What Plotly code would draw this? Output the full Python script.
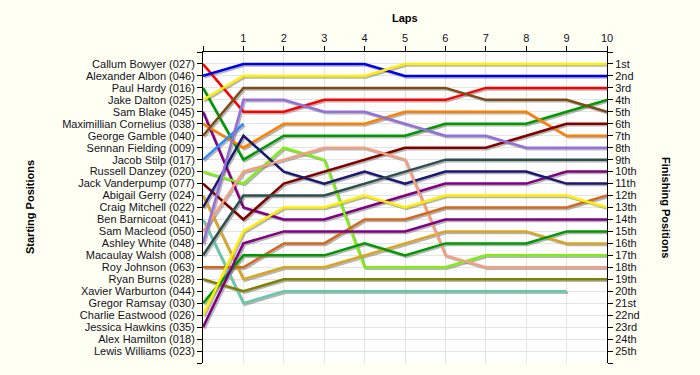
import plotly.graph_objects as go

laps = list(range(0, 11))
lap_labels = [""] + [str(i) for i in range(1, 11)]

drivers = [
    "Callum Bowyer (027)", "Alexander Albon (046)", "Paul Hardy (016)", "Jake Dalton (025)",
    "Sam Blake (045)", "Maximillian Cornelius (038)", "George Gamble (040)", "Sennan Fielding (009)",
    "Jacob Stilp (017)", "Russell Danzey (020)", "Jack Vanderpump (077)", "Abigail Gerry (024)",
    "Craig Mitchell (022)", "Ben Barnicoat (041)", "Sam Macleod (050)", "Ashley White (048)",
    "Macaulay Walsh (008)", "Roy Johnson (063)", "Ryan Burns (028)", "Xavier Warburton (044)",
    "Gregor Ramsay (030)", "Charlie Eastwood (026)", "Jessica Hawkins (035)", "Alex Hamilton (018)",
    "Lewis Williams (023)",
]

colors = [
    "#FF0000", "#0000EE", "#009900", "#FFEE00",
    "#800080", "#FF8000", "#7F4A14", "#191970",
    "#2E8BFF", "#7FEE11", "#800000", "#DAA520",
    "#191970", "#66C8A8", "#F4A080", "#9370DB",
    "#2F4F4F", "#D2691E", "#808000", "#808080",
    "#009900", "#FFEE00", "#800080", "#808080",
    "#808080",
]

# position of each driver at the end of each lap (lap 0 = grid)
positions = [
    [1, 5, 5, 4, 4, 4, 4, 3, 3, 3, 3],          # Callum Bowyer
    [2, 1, 1, 1, 1, 2, 2, 2, 2, 2, 2],          # Alexander Albon
    [3, 9, 7, 7, 7, 7, 6, 6, 6, 5, 4],          # Paul Hardy
    [4, 2, 2, 2, 2, 1, 1, 1, 1, 1, 1],          # Jake Dalton
    [5, 13, 14, 14, 13, 12, 11, 11, 11, 10, 10],  # Sam Blake
    [6, 8, 6, 6, 6, 5, 5, 5, 5, 7, 7],          # Maximillian Cornelius
    [7, 3, 3, 3, 3, 3, 3, 4, 4, 4, 5],          # George Gamble
    [8],                                        # Sennan Fielding
    [9, 6],                                     # Jacob Stilp
    [10, 11, 8, 9, 18, 18, 18, 17, 17, 17, 17],  # Russell Danzey
    [11, 14, 11, 10, 9, 8, 8, 8, 7, 6, 6],      # Jack Vanderpump
    [12, 19, 18, 18, 17, 16, 15, 15, 15, 16, 16],  # Abigail Gerry
    [13, 7, 10, 11, 10, 11, 10, 10, 10, 11, 11],  # Craig Mitchell
    [14, 21, 20, 20, 20, 20, 20, 20, 20, 20],   # Ben Barnicoat
    [15, 10, 9, 8, 8, 9, 17, 18, 18, 18, 18],   # Sam Macleod
    [16, 4, 4, 5, 5, 6, 7, 7, 8, 8, 8],         # Ashley White
    [17, 12, 12, 12, 11, 10, 9, 9, 9, 9, 9],    # Macaulay Walsh
    [18, 18, 16, 16, 14, 14, 13, 13, 13, 13, 12],  # Roy Johnson
    [19, 20, 19, 19, 19, 19, 19, 19, 19, 19, 19],  # Ryan Burns
    [20],                                       # Xavier Warburton
    [21, 17, 17, 17, 16, 17, 16, 16, 16, 15, 15],  # Gregor Ramsay
    [22, 15, 13, 13, 12, 13, 12, 12, 12, 12, 13],  # Charlie Eastwood
    [23, 16, 15, 15, 15, 15, 14, 14, 14, 14, 14],  # Jessica Hawkins
    [24],                                       # Alex Hamilton
    [25],                                       # Lewis Williams
]

finish_labels = [
    "1st", "2nd", "3rd", "4th", "5th", "6th", "7th", "8th", "9th", "10th",
    "11th", "12th", "13th", "14th", "15th", "16th", "17th", "18th", "19th", "20th",
    "21st", "22nd", "23rd", "24th", "25th",
]

FONT = "Liberation Sans, Arial, sans-serif"
TXT = "#111122"

W, H = 700, 375
ML, MR, MT, MB = 203, 93, 52, 12
plot_w = W - ML - MR
plot_h = H - MT - MB
X_RANGE = [0, 10]
Y_RANGE = [26, 0]
SHADOW_PX = 1.5
dx = SHADOW_PX * (X_RANGE[1] - X_RANGE[0]) / plot_w
dy = SHADOW_PX * (Y_RANGE[0] - Y_RANGE[1]) / plot_h

fig = go.Figure()
# drop shadows (base axes, range shifted by a pixel or two)
for name, col, pos in zip(drivers, colors, positions):
    if len(pos) < 2:
        continue
    fig.add_trace(go.Scatter(
        x=laps[:len(pos)], y=pos, mode="lines", xaxis="x", yaxis="y",
        line=dict(color="rgba(110,110,110,0.5)", width=2.5),
        showlegend=False, hoverinfo="skip",
    ))
# main lines
for name, col, pos in zip(drivers, colors, positions):
    if len(pos) < 2:
        continue
    fig.add_trace(go.Scatter(
        x=laps[:len(pos)], y=pos, mode="lines", name=name, xaxis="x2", yaxis="y2",
        line=dict(color=col, width=2.5), showlegend=False, hoverinfo="name+y",
    ))

# invisible trace to anchor right axis
fig.add_trace(go.Scatter(x=[0], y=[1], xaxis="x2", yaxis="y3", mode="markers",
                         marker=dict(opacity=0), showlegend=False, hoverinfo="skip"))

grid_vals = list(range(0, 27))
left_text = [""] + drivers + [""]
right_text = [""] + finish_labels + [""]

axis_common = dict(showline=True, linecolor="#000000", linewidth=1,
                   ticks="outside", ticklen=5, tickcolor="#000000",
                   zeroline=False, tickfont=dict(size=11, color=TXT))

fig.update_layout(
    width=W, height=H,
    margin=dict(l=ML, r=MR, t=MT, b=MB),
    paper_bgcolor="#FFFFF4",
    plot_bgcolor="#FFFFFF",
    font=dict(family=FONT, size=11, color=TXT),
    xaxis=dict(range=[X_RANGE[0] - dx, X_RANGE[1] - dx], visible=False, showgrid=False,
               zeroline=False),
    yaxis=dict(range=[Y_RANGE[0] - dy, Y_RANGE[1] - dy], visible=False, showgrid=False,
               zeroline=False),
    xaxis2=dict(
        overlaying="x", anchor="y2", side="top", range=X_RANGE, tickvals=laps, ticktext=lap_labels,
        showgrid=True, gridcolor="#E4E4E4", gridwidth=1, **axis_common,
    ),
    yaxis2=dict(
        overlaying="y", anchor="x2", side="left", range=Y_RANGE, tickvals=grid_vals, ticktext=left_text,
        showgrid=True, gridcolor="#E4E4E4", gridwidth=1, **axis_common,
    ),
    yaxis3=dict(
        overlaying="y", anchor="x2", side="right", range=Y_RANGE,
        tickvals=grid_vals, ticktext=right_text, showgrid=False, **axis_common,
    ),
)

def px_x(px):
    return (px - ML) / plot_w
def px_y(py):
    return 1 - (py - MT) / plot_h

fig.add_annotation(text="<b>Laps</b>", x=px_x(405), y=px_y(18), xref="paper", yref="paper",
                   xanchor="center", yanchor="middle",
                   showarrow=False, font=dict(size=11, color="#000000"))
fig.add_annotation(text="<b>Starting Positions</b>", x=px_x(30), y=px_y(207), xref="paper", yref="paper",
                   xanchor="center", yanchor="middle",
                   showarrow=False, textangle=-90, font=dict(size=11, color="#000000"))
fig.add_annotation(text="<b>Finishing Positions</b>", x=px_x(666), y=px_y(207), xref="paper", yref="paper",
                   xanchor="center", yanchor="middle",
                   showarrow=False, textangle=90, font=dict(size=11, color="#000000"))

fig.write_html("out.html", config={"displayModeBar": False},
               post_script="document.body.style.margin='0px';")
